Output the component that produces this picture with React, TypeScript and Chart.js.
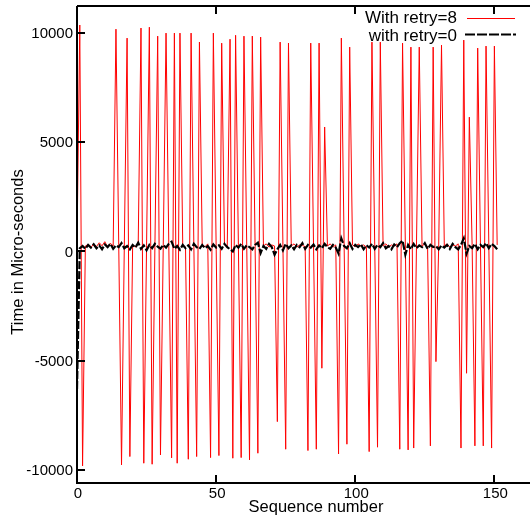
import React, { useEffect, useRef } from "react";
import { Chart, registerables } from "chart.js";

Chart.register(...registerables);

const retry8: number[] = [
  300, 10370, -9817, 250, 320, 180, 350, 230, 400, 260,
  450, 200, 380, 250, 10180, 300, -9771, 250, 9770, -9390,
  300, 200, 350, 10230, -9695, 280, 10270, -9741, 250, 9860,
  -9314, 300, 10000, 250, -9450, 10000, -9695, 10000, 300, 200,
  -9512, 10000, 250, -9390, 9590, 300, 220, 350, -9437, 10000,
  280, -9345, 9540, 300, 250, 9720, -9466, 9900, 300, -9437,
  9860, 250, -9542, 9863, 300, -9237, 9817, 250, 350, 200,
  300, 250, -7790, 9588, 300, -9054, 9542, 250, 350, 200,
  300, 280, 220, -9115, 9542, 300, -9054, 9542, -5345, 5700,
  250, 350, 200, 300, -9268, 9771, 250, -8824, 9359, 300,
  220, 350, 250, 300, 200, -9163, 9588, 300, -8961, 9588,
  250, 350, 200, 300, 250, 350, -9054, 9542, 300, -9085,
  9359, -9000, 300, 9359, 250, 350, 200, -8900, 9359, -5043,
  300, 9450, 250, 350, 200, 300, 250, 350, -9000, 9680,
  -5575, 6150, 300, -8900, 9314, 250, -8900, 9405, 300, -9000,
  9405, 300,
];

const retry0: number[] = [
  -6300, 150, 250, 120, 300, 180, 330, 150, 280, 100,
  320, 200, 350, 120, 280, 200, 380, 150, 250, 100,
  300, 180, 400, 120, 280, 60, 300, 150, 350, 220,
  130, 300, 180, 350, 450, 120, 250, 80, 300, 150,
  280, 100, 350, 200, 120, 300, 150, 250, 80, 320,
  180, 280, 120, 350, 200, 100, 0, 300, 180, 350,
  120, 280, 200, 100, 300, 400, -70, 250, 120, 350,
  200, -150, 100, 300, 50, 350, 150, 280, 100, 300,
  200, 380, 120, 300, 180, 320, 100, 280, 150, 350,
  200, 120, 300, 180, -100, 600, 250, 150, 380, 120,
  300, 200, 330, 100, 280, 180, 350, 120, 300, 200,
  380, 150, 250, 100, 320, 200, 380, 500, -150, 300,
  100, 350, 150, 280, 200, 380, 120, 300, 200, 250,
  100, 280, 180, 300, 120, 350, 200, 100, 300, 600,
  -100, 250, 150, 350, 100, 300, 200, 380, 150, 350,
  250, 100,
];

const sequenceNumbers: number[] = retry0.map((_, i) => i);

const xTickValues = [0, 50, 100, 150];
const yTickValues = [-10000, -5000, 0, 5000, 10000];

const seriesLabels = ["With retry=8", "with retry=0"];
const xTitle = "Sequence number";
const yTitle = "Time in Micro-seconds";

const FONT = "'Liberation Sans', Arial, Helvetica, sans-serif";

const gnuplotDecor = {
  id: "gnuplotDecor",
  afterDraw(chart: any) {
    const ctx = chart.ctx as CanvasRenderingContext2D;
    const { left, top, right, bottom } = chart.chartArea;
    const xs = chart.scales.x;
    const ys = chart.scales.y;
    ctx.save();
    ctx.strokeStyle = "#000";
    ctx.fillStyle = "#000";
    // borders: left, top, bottom
    ctx.lineWidth = 2;
    ctx.beginPath();
    ctx.moveTo(left, top);
    ctx.lineTo(right, top);
    ctx.moveTo(left, top);
    ctx.lineTo(left, bottom);
    ctx.lineTo(right, bottom);
    ctx.stroke();
    // inward ticks
    const tl = 8;
    ctx.lineWidth = 2;
    ctx.beginPath();
    for (const v of xTickValues) {
      const px = Math.round(xs.getPixelForValue(v));
      ctx.moveTo(px, bottom);
      ctx.lineTo(px, bottom - tl);
      ctx.moveTo(px, top);
      ctx.lineTo(px, top + tl);
    }
    for (const v of yTickValues) {
      const py = Math.round(ys.getPixelForValue(v));
      ctx.moveTo(left, py);
      ctx.lineTo(left + tl, py);
    }
    ctx.stroke();
    // tick labels
    ctx.font = `15px ${FONT}`;
    ctx.textBaseline = "middle";
    ctx.textAlign = "center";
    for (const v of xTickValues) {
      ctx.fillText(String(v), xs.getPixelForValue(v) + 1, bottom + 11);
    }
    ctx.textAlign = "right";
    for (const v of yTickValues) {
      ctx.fillText(String(v), left - 4, ys.getPixelForValue(v) + 1);
    }
    // axis titles
    ctx.font = `16.5px ${FONT}`;
    ctx.textAlign = "center";
    ctx.fillText(xTitle, 316, 507);
    ctx.save();
    ctx.translate(18, 252);
    ctx.rotate(-Math.PI / 2);
    ctx.font = `16.5px ${FONT}`;
    ctx.fillText(yTitle, 0, 0);
    ctx.restore();
    // legend
    ctx.font = `17px ${FONT}`;
    ctx.textAlign = "right";
    ctx.fillText(seriesLabels[0], 457, 18);
    ctx.fillText(seriesLabels[1], 457, 36);
    ctx.lineWidth = 1;
    ctx.strokeStyle = "#ff0000";
    ctx.beginPath();
    ctx.moveTo(467, 18.5);
    ctx.lineTo(515, 18.5);
    ctx.stroke();
    ctx.lineWidth = 2;
    ctx.strokeStyle = "#000";
    ctx.setLineDash([10, 2]);
    ctx.beginPath();
    ctx.moveTo(465, 34.5);
    ctx.lineTo(516, 34.5);
    ctx.stroke();
    ctx.setLineDash([]);
    ctx.restore();
  },
};

export default function App() {
  const ref = useRef<HTMLCanvasElement | null>(null);
  useEffect(() => {
    document.body.style.margin = "0";
    const canvas = ref.current!;
    const chart = new Chart(canvas, {
      type: "line",
      data: {
        labels: sequenceNumbers,
        datasets: [
          {
            label: seriesLabels[0],
            data: sequenceNumbers.map((x, i) => ({ x, y: retry8[i] })),
            borderColor: "#ff0000",
            borderWidth: 1,
            pointRadius: 0,
            tension: 0,
            order: 2,
          },
          {
            label: seriesLabels[1],
            data: sequenceNumbers.map((x, i) => ({ x, y: retry0[i] })),
            borderColor: "#000000",
            borderWidth: 2.2,
            borderDash: [8, 2],
            pointRadius: 0,
            tension: 0,
            order: 1,
          },
        ],
      },
      options: {
        animation: false,
        responsive: false,
        devicePixelRatio: 1,
        layout: { padding: { left: 77, top: 6, right: 0, bottom: 35 } },
        plugins: { legend: { display: false }, tooltip: { enabled: false } },
        scales: {
          x: { type: "linear", min: 0, max: 162.8, display: false },
          y: { type: "linear", min: -10600, max: 11240, display: false },
        },
      },
      plugins: [gnuplotDecor],
    });
    return () => chart.destroy();
  }, []);
  return (
    <canvas
      ref={ref}
      width={530}
      height={518}
      style={{ display: "block", width: 530, height: 518 }}
    />
  );
}
